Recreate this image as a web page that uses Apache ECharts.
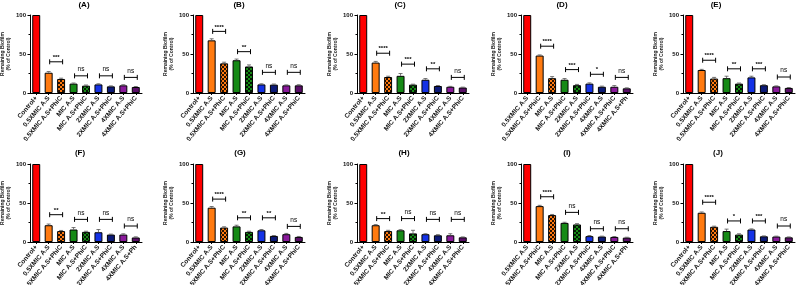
<!DOCTYPE html>
<html>
<head>
<meta charset="utf-8">
<script src="https://cdn.jsdelivr.net/npm/echarts@6/dist/echarts.min.js"></script>
<style>
  html, body { margin: 0; padding: 0; background: #fff; }
  #chart { width: 798px; height: 285px; }
</style>
</head>
<body>
<div id="chart"></div>
<script>
// ---- data ----
const panelTitles = ['(A)', '(B)', '(C)', '(D)', '(E)', '(F)', '(G)', '(H)', '(I)', '(J)'];

const labelsStd = ['Control+', '0.5XMIC A.S', '0.5XMIC A.S+PhiC', 'MIC A.S', 'MIC A.S+PhiC',
  '2XMIC A.S', '2XMIC A.S+PhiC', '4XMIC A.S', '4XMIC A.S+PhiC'];
const labelsShifted = ['0.5XMIC A.S', '0.5XMIC A.S+PhiC', 'MIC A.S', 'MIC A.S+PhiC', '2XMIC A.S',
  '2XMIC A.S+PhiC', '4XMIC A.S', '4XMIC A.S+PhiC', '4XMIC A.S+Ph'];
const labelsF = ['Control+', '0.5XMIC A.S', '0.5XMIC A.S+PhiC', 'MIC A.S', 'MIC A.S+PhiC',
  '2XMIC A.S', '2XMIC A.S+PhiC', '4XMIC A.S', '4XMIC A.S+Ph'];

const valuesA = [100, 26, 18, 12, 9.4, 11, 8.5, 9.8, 7.7];
const valuesB = [100, 67.5, 38, 42, 34, 11, 10.7, 9.8, 9.8];
const valuesC = [100, 39, 20.5, 22, 10.7, 17, 9, 8, 7];
const valuesD = [100, 48, 19, 17, 10, 12, 8, 8, 6];
const valuesE = [100, 29.5, 18.5, 19, 12, 20, 10, 8.5, 6.5];
const valuesF = [100, 21.5, 14, 16, 13, 12.5, 9.5, 9.5, 5.8];
const valuesG = [100, 44, 18.5, 20, 13, 15, 7.8, 10, 6.5];
const valuesH = [100, 21.5, 14, 15, 11, 10, 8.6, 8.6, 6];
const valuesI = [100, 46, 34.5, 24.5, 22.5, 7.5, 7, 6.5, 5.6];
const valuesJ = [100, 37.5, 19.5, 14, 9.5, 16, 7.3, 7, 6];

const errorsA = [0, 1.5, 1, 0.8, 0.8, 0.8, 0.6, 0.8, 0.6];
const errorsB = [0, 2, 1.5, 1.5, 2, 0.8, 0.8, 0.6, 0.8];
const errorsC = [0, 1.5, 1, 3, 0.6, 1.5, 0.6, 0.5, 0.5];
const errorsD = [0, 0.8, 2, 1.5, 1, 1, 0.8, 1.5, 0.6];
const errorsE = [0, 0.8, 1.5, 2.5, 0.8, 1.5, 0.6, 0.6, 0.5];
const errorsF = [0, 1.5, 0.8, 2.5, 0.8, 3.5, 0.6, 1, 0.8];
const errorsG = [0, 1.5, 1, 1.5, 0.8, 1, 0.5, 1, 0.6];
const errorsH = [0, 0.8, 1, 0.8, 4, 0.6, 0.8, 2, 0.5];
const errorsI = [0, 1, 0.8, 0.8, 1, 0.8, 0.5, 0.5, 0.5];
const errorsJ = [0, 1, 0.8, 2.5, 1, 0.8, 0.5, 0.5, 0.5];

// [from bar, to bar, height, significance]
const bracketsA = [[1, 2, 40, '***'], [3, 4, 22, 'ns'], [5, 6, 22, 'ns'], [7, 8, 20, 'ns']];
const bracketsB = [[1, 2, 79, '****'], [3, 4, 53, '**'], [5, 6, 26.5, 'ns'], [7, 8, 26.5, 'ns']];
const bracketsC = [[1, 2, 51, '****'], [3, 4, 37, '***'], [5, 6, 31, '**'], [7, 8, 20, 'ns']];
const bracketsD = [[1, 2, 60, '****'], [3, 4, 30, '***'], [5, 6, 24, '*'], [7, 8, 20, 'ns']];
const bracketsE = [[1, 2, 42, '****'], [3, 4, 31, '**'], [5, 6, 31, '***'], [7, 8, 20.5, 'ns']];
const bracketsF = [[1, 2, 35, '**'], [3, 4, 29, 'ns'], [5, 6, 29, 'ns'], [7, 8, 20.5, 'ns']];
const bracketsG = [[1, 2, 55, '****'], [3, 4, 31, '**'], [5, 6, 31, '**'], [7, 8, 20, 'ns']];
const bracketsH = [[1, 2, 30, '**'], [3, 4, 30, 'ns'], [5, 6, 29, 'ns'], [7, 8, 29, 'ns']];
const bracketsI = [[1, 2, 58, '****'], [3, 4, 38, 'ns'], [5, 6, 17, 'ns'], [7, 8, 17, 'ns']];
const bracketsJ = [[1, 2, 51, '****'], [3, 4, 27, '*'], [5, 6, 27, '***'], [7, 8, 20.5, 'ns']];

const panelLabels = [labelsStd, labelsStd, labelsStd, labelsShifted, labelsStd,
  labelsF, labelsStd, labelsStd, labelsShifted, labelsStd];
const panelValues = [valuesA, valuesB, valuesC, valuesD, valuesE, valuesF, valuesG, valuesH, valuesI, valuesJ];
const panelErrors = [errorsA, errorsB, errorsC, errorsD, errorsE, errorsF, errorsG, errorsH, errorsI, errorsJ];
const panelBrackets = [bracketsA, bracketsB, bracketsC, bracketsD, bracketsE,
  bracketsF, bracketsG, bracketsH, bracketsI, bracketsJ];

// ---- layout & style ----
const gridLefts = [30, 193, 357, 521, 683];
const gridWidth = 112;
const rowTops = [15, 164];
const rowHeights = [78, 78];
const titleXs = [84, 239, 400, 562, 716, 80, 240, 404, 567, 718];
const titleYs = [5, 153];
const FONT = '"Liberation Sans", Arial, sans-serif';

function checker(base, dark) {
  const c = document.createElement('canvas');
  c.width = 4; c.height = 4;
  const ctx = c.getContext('2d');
  ctx.fillStyle = base; ctx.fillRect(0, 0, 4, 4);
  ctx.fillStyle = dark;
  ctx.fillRect(0, 0, 2, 2); ctx.fillRect(2, 2, 2, 2);
  return { image: c, repeat: 'repeat' };
}

const barColors = [
  '#ff0000',
  '#ff7a10',
  checker('#ff7a10', '#2a1200'),
  '#168a16',
  checker('#168a16', '#041a04'),
  '#1432e6',
  '#0c1a78',
  '#8a1a9c',
  '#5a0e68'
];

const chart = echarts.init(document.getElementById('chart'), null, { renderer: 'canvas' });

const grids = [], xAxes = [], yAxes = [], series = [], graphics = [];

panelTitles.forEach((title, k) => {
  const row = Math.floor(k / 5), col = k % 5;
  grids.push({
    left: gridLefts[col], top: rowTops[row], width: gridWidth, height: rowHeights[row],
    containLabel: false, outerBoundsMode: 'none'
  });
  xAxes.push({
    type: 'category', gridIndex: k, data: panelLabels[k],
    axisLine: { lineStyle: { color: '#000', width: 1 } },
    axisTick: { show: true, alignWithLabel: true, length: 2, lineStyle: { color: '#000' } },
    axisLabel: {
      interval: 0, rotate: 50, fontSize: 6.5, fontWeight: 'bold', color: '#111',
      fontFamily: FONT, margin: 4
    }
  });
  yAxes.push({
    type: 'value', gridIndex: k, min: 0, max: 100, interval: 50,
    axisLine: { show: true, lineStyle: { color: '#000', width: 1 } },
    axisTick: { show: true, length: 2.5, lineStyle: { color: '#000' } },
    minorTick: { show: true, splitNumber: 2, length: 1.5, lineStyle: { color: '#000' } },
    splitLine: { show: false },
    axisLabel: { fontSize: 6, fontWeight: 'bold', color: '#111', fontFamily: FONT, margin: 4 },
    name: 'Remaining Biofilm\n(% of Control)',
    nameLocation: 'middle', nameGap: 18, nameRotate: 90,
    nameTextStyle: { fontSize: 5, fontWeight: 'bold', color: '#222', fontFamily: FONT, lineHeight: 6.5 }
  });

  series.push({
    type: 'bar', xAxisIndex: k, yAxisIndex: k, barWidth: '64%',
    data: panelValues[k].map((v, i) => ({
      value: v,
      itemStyle: { color: barColors[i], borderColor: '#000', borderWidth: 1 }
    }))
  });

  const errs = panelErrors[k];
  series.push({
    type: 'custom', xAxisIndex: k, yAxisIndex: k, z: 5, silent: true,
    data: panelValues[k].map((v, i) => [i, v, errs[i]]),
    renderItem: (params, api) => {
      const i = api.value(0), v = api.value(1), e = api.value(2);
      if (!e) return null;
      const lo = api.coord([i, v]);
      const hi = api.coord([i, v + e]);
      const style = { stroke: '#555', lineWidth: 0.8 };
      return {
        type: 'group', children: [
          { type: 'line', shape: { x1: lo[0], y1: lo[1], x2: hi[0], y2: hi[1] }, style },
          { type: 'line', shape: { x1: hi[0] - 2, y1: hi[1], x2: hi[0] + 2, y2: hi[1] }, style }
        ]
      };
    }
  });

  const br = panelBrackets[k];
  series.push({
    type: 'custom', xAxisIndex: k, yAxisIndex: k, z: 6, silent: true,
    data: br.map(b => [b[0], b[1], b[2]]),
    renderItem: (params, api) => {
      const a = api.coord([api.value(0), api.value(2)]);
      const b = api.coord([api.value(1), api.value(2)]);
      const x1 = a[0] + 1, x2 = b[0] + 1.5, y = a[1];
      const style = { stroke: '#000', lineWidth: 1 };
      const label = br[params.dataIndex][3];
      return {
        type: 'group', children: [
          { type: 'line', shape: { x1, y1: y, x2, y2: y }, style },
          { type: 'line', shape: { x1, y1: y - 2.5, x2: x1, y2: y + 2.5 }, style },
          { type: 'line', shape: { x1: x2, y1: y - 2.5, x2, y2: y + 2.5 }, style },
          {
            type: 'text', x: (x1 + x2) / 2, y: label === 'ns' ? y - 3 : y - 1.5,
            style: {
              text: label, textAlign: 'center', textVerticalAlign: 'bottom',
              font: (label === 'ns' ? '6.5px ' : 'bold 6px ') + FONT, fill: '#000'
            }
          }
        ]
      };
    }
  });

  graphics.push({
    type: 'text', x: titleXs[k], y: titleYs[row],
    style: {
      text: title, textAlign: 'center', textVerticalAlign: 'middle',
      font: 'bold 8px ' + FONT, fill: '#000'
    }
  });
});

chart.setOption({
  animation: false,
  backgroundColor: '#fff',
  grid: grids,
  xAxis: xAxes,
  yAxis: yAxes,
  series: series,
  graphic: graphics
});
</script>
</body>
</html>
